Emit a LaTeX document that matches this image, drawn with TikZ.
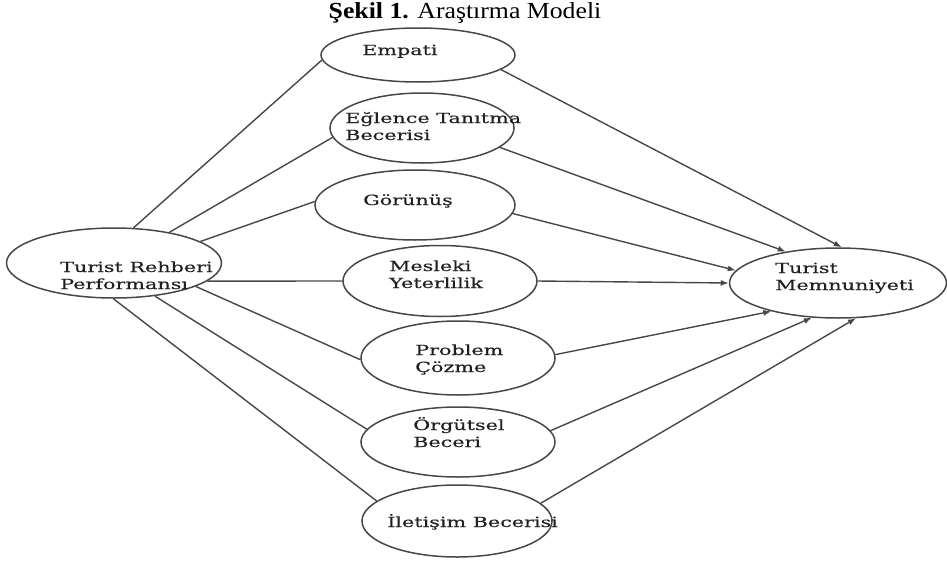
\documentclass[tikz,border=0pt]{standalone}
\usepackage{fontspec}
\setmainfont{Liberation Serif}
\newfontfamily\titlefont[FakeStretch=1.12]{Liberation Serif}
\newfontfamily\nodefont[FakeStretch=1.48,FakeBold=0.4]{DejaVu Serif}
\usetikzlibrary{shapes.geometric,arrows.meta}
\definecolor{linegray}{HTML}{474747}
\definecolor{txtcol}{HTML}{202020}
\begin{document}
\begin{tikzpicture}[x=1pt,y=-1pt,
  oval/.style={ellipse, draw=linegray, line width=1.5pt, inner sep=0pt},
  lab/.style={font=\nodefont\fontsize{14}{17}\selectfont, align=left, text=txtcol, inner sep=0pt, anchor=base west},
  link/.style={draw=linegray, line width=1.4pt},
  arr/.style={link, -{Latex[length=8pt,width=6pt]}}]
\useasboundingbox (0,0) rectangle (947,562);
\node[font=\titlefont\fontsize{23}{26}\selectfont, anchor=base] (title) at (465,18) {\textbf{Şekil 1.} Araştırma Modeli};

% ellipses
\node[oval, minimum width=194pt, minimum height=54pt] (emp) at (418,55) {};
\node[oval, minimum width=184pt, minimum height=70pt] (egl) at (422,128) {};
\node[oval, minimum width=200pt, minimum height=70pt] (gor) at (415,205) {};
\node[oval, minimum width=194pt, minimum height=71pt] (mes) at (440,281) {};
\node[oval, minimum width=194pt, minimum height=74pt] (pro) at (458,358) {};
\node[oval, minimum width=194pt, minimum height=70pt] (org) at (458,442) {};
\node[oval, minimum width=190pt, minimum height=72pt] (ile) at (457,521) {};
\node[oval, minimum width=215pt, minimum height=70pt] (trp) at (114,263) {};
\node[oval, minimum width=217pt, minimum height=70pt] (tm) at (838,283) {};

% texts (base = baseline of the last line)
\node[lab] (emp-t) at (362,55) {Empati};
\node[lab] (egl-t) at (345,140) {Eğlence Tanıtma\\Becerisi};
\node[lab] (gor-t) at (363,205) {Görünüş};
\node[lab] (mes-t) at (389,288) {Mesleki\\Yeterlilik};
\node[lab] (pro-t) at (415,372) {Problem\\Çözme};
\node[lab] (org-t) at (413,447) {Örgütsel\\Beceri};
\node[lab] (ile-t) at (387,527) {İletişim Becerisi};
\node[lab] (trp-t) at (60,289) {Turist Rehberi\\Performansı};
\node[lab] (tm-t) at (775,290) {Turist\\Memnuniyeti};

% left connectors
\draw[link] (trp.61.5) -- (emp.183);
\draw[link] (trp.29.4) -- (egl.186);
\draw[link] (trp.14.6) -- (gor.178);
\draw[link] (trp.-11) -- (mes.180);
\draw[link] (trp.-16.2) -- (pro.181);
\draw[link] (trp.-39.9) -- (org.172);
\draw[link] (trp.-91.5) -- (ile.166.6);

% right connectors
\draw[arr] (emp.-10.5) -- (tm.84);
\draw[arr] (egl.-14) -- (tm.149.7);
\draw[arr] (gor.-5) -- (tm.173.7);
\draw[arr] (mes.0) -- (tm.180);
\draw[arr] (pro.2) -- (tm.203.7);
\draw[arr] (org.7.5) -- (tm.233.4);
\draw[arr] (ile.12.5) -- (tm.-63.8);
\end{tikzpicture}
\end{document}
